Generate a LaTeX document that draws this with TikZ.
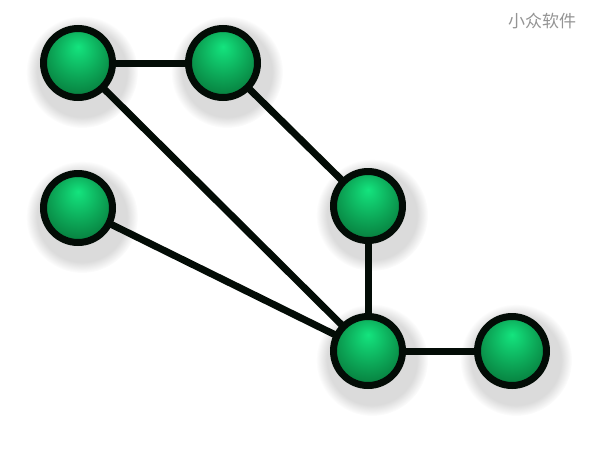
\documentclass[tikz,border=0pt]{standalone}
\usepackage{fontspec}
\newfontfamily\cjk{Noto Sans CJK SC}
\usetikzlibrary{fadings}
\definecolor{ballhi}{HTML}{14E47E}
\definecolor{ballmid}{HTML}{0CA556}
\definecolor{balldark}{HTML}{046830}
\definecolor{ring}{HTML}{030C06}
\pgfdeclareradialshading{greenball}{\pgfpoint{0bp}{12bp}}{color(0bp)=(ballhi);color(18bp)=(ballmid);color(36bp)=(balldark);color(50bp)=(balldark)}
\pgfdeclarelayer{shadow}
\pgfdeclarelayer{edges}
\pgfsetlayers{shadow,edges,main}
\tikzset{
	ball/.style={circle,draw=ring,line width=7pt,inner sep=0pt,minimum size=69pt,shading=greenball},
	link/.style={draw=ring,line width=7pt}
}
\begin{document}
\begin{tikzpicture}[x=1pt,y=-1pt]
	\useasboundingbox (0,0) rectangle (592,448);
	\node[ball] (topleft) at (78,63) {};
	\node[ball] (topmid) at (223,63) {};
	\node[ball] (midleft) at (78,208) {};
	\node[ball] (midright) at (368,206) {};
	\node[ball] (hub) at (368,351) {};
	\node[ball] (tail) at (512,351) {};
	\node[text=black!42,font=\cjk\fontsize{17pt}{17pt}\selectfont] (mark) at (542,21) {小众软件};
	% soft shadows under the balls
	\begin{pgfonlayer}{shadow}
		\foreach \b in {topleft,topmid,midleft,midright,hub,tail}
			\fill[black,opacity=0.14,path fading=circle with fuzzy edge 20 percent] ([shift={(4,9)}]\b.center) circle (56);
	\end{pgfonlayer}
	\begin{pgfonlayer}{edges}
		\draw[link] (topleft.center) -- (topmid.center);
		\draw[link] (topleft.center) -- (hub.center);
		\draw[link] (topmid.center) -- (midright.center);
		\draw[link] (midleft.center) -- (hub.center);
		\draw[link] (midright.center) -- (hub.center);
		\draw[link] (hub.center) -- (tail.center);
	\end{pgfonlayer}
\end{tikzpicture}
\end{document}
